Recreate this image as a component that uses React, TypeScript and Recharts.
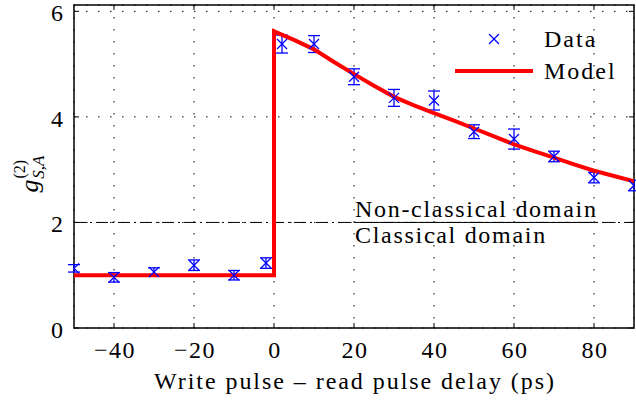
import {
  ComposedChart,
  Line,
  Scatter,
  ErrorBar,
  XAxis,
  YAxis,
  CartesianGrid,
  ReferenceLine,
  ReferenceArea,
  Legend,
} from 'recharts'

// measured points
const delays = [-50, -40, -30, -20, -10, -2, 2, 10, 20, 30, 40, 50, 60, 70, 80, 90]
const g2Values = [1.13, 0.96, 1.06, 1.19, 1.0, 1.23, 5.38, 5.38, 4.76, 4.36, 4.31, 3.72, 3.58, 3.25, 2.85, 2.7]
const g2Errors = [0.07, 0.09, 0.08, 0.1, 0.09, 0.1, 0.17, 0.16, 0.15, 0.16, 0.18, 0.13, 0.19, 0.1, 0.1, 0.1]

// model curve
const modelDelays = [-50, 0, 0, 5, 10, 15, 20, 25, 30, 35, 40, 45, 50, 55, 60, 65, 70, 75, 80, 85, 90]
const modelValues = [1, 1, 5.62, 5.46, 5.28, 5.04, 4.81, 4.59, 4.38, 4.22, 4.07, 3.93, 3.78, 3.63, 3.48, 3.35, 3.23, 3.1, 2.98, 2.88, 2.78]

const xTicks = [-40, -20, 0, 20, 40, 60, 80]
const yTicks = [0, 2, 4, 6]

const points = delays.map((x, i) => ({ x, y: g2Values[i], err: g2Errors[i] }))
const model = modelDelays.map((x, i) => ({ x, y: modelValues[i] }))

const FONT = '"Liberation Serif", "Times New Roman", serif'
const BLUE = '#0000ff'
const RED = '#ff0000'

const W = 636
const H = 400
const MARGIN = { top: 5, right: 2, left: 0, bottom: 0 }
const Y_AXIS_W = 74
const X_AXIS_H = 72
const PLOT_W = W - MARGIN.left - MARGIN.right - Y_AXIS_W
const PLOT_H = H - MARGIN.top - MARGIN.bottom - X_AXIS_H

const fmt = (v: number) => (v < 0 ? '\u2212' + Math.abs(v) : String(v))

const XTick = ({ x, y, payload }: any) => (
  <g>
    <line x1={x} y1={y} x2={x} y2={y - 5} stroke="#000" />
    <line x1={x} y1={y - PLOT_H} x2={x} y2={y - PLOT_H + 5} stroke="#000" />
    <text x={x + 1} y={y + 30} textAnchor="middle" fontFamily={FONT} fontSize={24} letterSpacing={1.5} fill="#000">
      {fmt(payload.value)}
    </text>
  </g>
)

const YTick = ({ x, y, payload }: any) => (
  <g>
    <line x1={x} y1={y} x2={x + 5} y2={y} stroke="#000" />
    <line x1={x + PLOT_W} y1={y} x2={x + PLOT_W - 5} y2={y} stroke="#000" />
    <text x={x - 11} y={y + 10} textAnchor="end" fontFamily={FONT} fontSize={24} fill="#000">
      {fmt(payload.value)}
    </text>
  </g>
)

const Cross = ({ cx, cy }: any) => (
  <g stroke={BLUE} strokeWidth={1.3}>
    <line x1={cx - 5} y1={cy - 5} x2={cx + 5} y2={cy + 5} />
    <line x1={cx - 5} y1={cy + 5} x2={cx + 5} y2={cy - 5} />
  </g>
)

const YLabel = ({ viewBox }: any) => {
  const cx = viewBox.x + 38
  const cy = viewBox.y + viewBox.height / 2
  return (
    <text
      x={cx - 26}
      y={cy}
      transform={`rotate(-90, ${cx}, ${cy})`}
      fontFamily={FONT}
      fill="#000"
    >
      <tspan fontStyle="italic" fontSize={26}>g</tspan>
      <tspan fontSize={16} dx={1} dy={-13}>(2)</tspan>
      <tspan fontSize={17} fontStyle="italic" dx={-19} dy={19}>S,A</tspan>
    </text>
  )
}

const XLabel = ({ viewBox }: any) => (
  <text
    x={viewBox.x + viewBox.width / 2 + 1}
    y={viewBox.y + 61}
    textAnchor="middle"
    fontFamily={FONT}
    fontSize={24}
    letterSpacing={1.95}
    fill="#000"
  >
    Write pulse – read pulse delay (ps)
  </text>
)

const DomainLabels = ({ viewBox }: any) => {
  const x0 = viewBox.x + 281
  return (
    <g fontFamily={FONT} fontSize={24} fill="#000" letterSpacing={1.7}>
      <line x1={x0} y1={viewBox.y} x2={x0 + 243} y2={viewBox.y} stroke="#000" strokeWidth={1} />
      <text x={x0} y={viewBox.y - 5}>
        Non-classical domain
      </text>
      <text x={x0} y={viewBox.y + 21}>
        Classical domain
      </text>
    </g>
  )
}

const LegendBox = () => (
  <div style={{ fontFamily: FONT, fontSize: 24, letterSpacing: 2, color: '#000' }}>
    <div style={{ display: 'flex', alignItems: 'center', height: 32 }}>
      <svg width={89} height={32}>
        <line x1={34} y1={11} x2={44} y2={21} stroke={BLUE} strokeWidth={1.3} />
        <line x1={34} y1={21} x2={44} y2={11} stroke={BLUE} strokeWidth={1.3} />
      </svg>
      <span>Data</span>
    </div>
    <div style={{ display: 'flex', alignItems: 'center', height: 32 }}>
      <svg width={89} height={32}>
        <line x1={0} y1={16} x2={78} y2={16} stroke={RED} strokeWidth={4} />
      </svg>
      <span>Model</span>
    </div>
  </div>
)

export default function App() {
  return (
    <div style={{ position: 'absolute', left: 0, top: 0, width: W, height: H, background: '#fff' }}>
      <ComposedChart width={W} height={H} margin={MARGIN}>
        <CartesianGrid stroke="#000" strokeDasharray="1.5 10.5" />
        <XAxis
          type="number"
          dataKey="x"
          domain={[-50, 90]}
          ticks={xTicks}
          allowDataOverflow
          height={X_AXIS_H}
          axisLine={false}
          tickLine={false}
          tickSize={0}
          tickMargin={0}
          tick={<XTick />}
          label={<XLabel />}
        />
        <YAxis
          type="number"
          dataKey="y"
          domain={[0, 6.12]}
          ticks={yTicks}
          allowDataOverflow
          width={Y_AXIS_W}
          axisLine={false}
          tickLine={false}
          tickSize={0}
          tickMargin={0}
          tick={<YTick />}
          label={<YLabel />}
        />
        <ReferenceLine
          y={2}
          stroke="#000"
          strokeWidth={1}
          strokeDasharray="12 4 2 4"
          label={<DomainLabels />}
        />
        <Scatter data={points} fill={BLUE} shape={<Cross />} isAnimationActive={false}>
          <ErrorBar dataKey="err" width={6} stroke={BLUE} strokeWidth={1.3} direction="y" />
        </Scatter>
        <Line
          data={model}
          dataKey="y"
          type="linear"
          stroke={RED}
          strokeWidth={4}
          dot={false}
          activeDot={false}
          isAnimationActive={false}
        />
        <ReferenceArea
          x1={-50}
          x2={90}
          y1={0}
          y2={6.12}
          fill="none"
          stroke="#000"
          strokeWidth={1.5}
          ifOverflow="visible"
        />
        <Legend
          layout="vertical"
          align="center"
          verticalAlign="middle"
          content={<LegendBox />}
          wrapperStyle={{ position: 'absolute', left: 455, top: 23, width: 180 }}
        />
      </ComposedChart>
    </div>
  )
}
